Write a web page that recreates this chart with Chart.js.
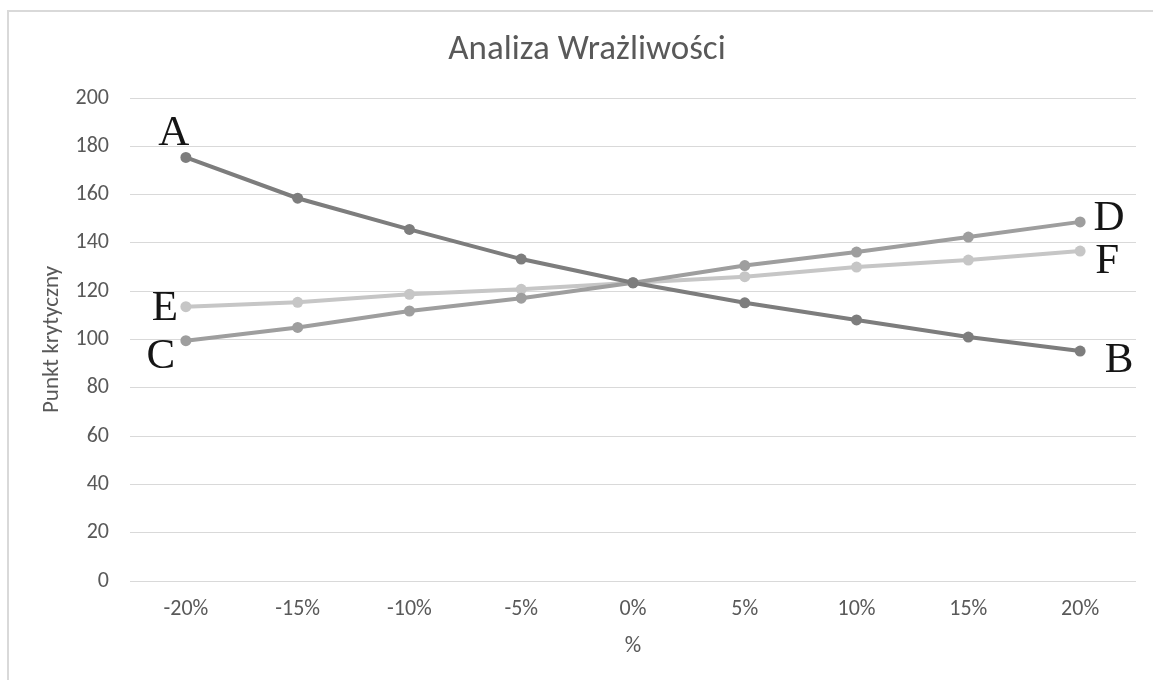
<!DOCTYPE html>
<html>
<head>
<meta charset="utf-8">
<title>Analiza Wrażliwości</title>
<script src="https://cdn.jsdelivr.net/npm/chart.js@4/dist/chart.umd.min.js"></script>
<style>
  html, body { margin: 0; padding: 0; background: #ffffff; }
  #wrap { width: 1153px; height: 680px; position: relative; }
</style>
</head>
<body>
<div id="wrap"><canvas id="chart" width="1153" height="680"></canvas></div>
<script>
// Percentage change of the input parameter
const categories = ['-20%', '-15%', '-10%', '-5%', '0%', '5%', '10%', '15%', '20%'];

// Critical point for each of the three varied parameters
const seriesAB = [175.4, 158.5, 145.6, 133.3, 123.5, 115.2, 108.1, 101.0, 95.2];
const seriesCD = [99.5, 105.0, 111.8, 117.1, 123.5, 130.6, 136.2, 142.4, 148.7];
const seriesEF = [113.6, 115.4, 118.7, 120.8, 123.5, 126.0, 130.0, 132.9, 136.6];

// Letters written at the start and end of each line
const startLabels = ['A', 'C', 'E'];
const endLabels = ['B', 'D', 'F'];

const yTicks = { min: 0, max: 200, step: 20 };

const uiFont = 'Carlito, Calibri, "Liberation Sans Narrow", "Open Sans", sans-serif';
const textColor = '#595959';
const gridColor = '#d9d9d9';

// Offsets (px) of each end letter relative to its point
const startOffsets = [[-12, -27], [-25, 13], [-21, -1]];
const endOffsets = [[39, 7], [29, -6], [27, 8]];

const frame = {
  id: 'frame',
  beforeDraw(chart) {
    const ctx = chart.ctx;
    ctx.save();
    ctx.fillStyle = '#ffffff';
    ctx.fillRect(0, 0, chart.width, chart.height);
    ctx.strokeStyle = gridColor;
    ctx.lineWidth = 2;
    ctx.beginPath();
    ctx.moveTo(8, chart.height);
    ctx.lineTo(8, 11);
    ctx.lineTo(chart.width, 11);
    ctx.stroke();
    ctx.restore();
  }
};

const endLetters = {
  id: 'endLetters',
  afterDatasetsDraw(chart) {
    const ctx = chart.ctx;
    const size = 43;
    ctx.save();
    ctx.font = size + 'px "Liberation Serif", "DejaVu Serif", serif';
    ctx.fillStyle = '#151515';
    ctx.textAlign = 'center';
    ctx.textBaseline = 'alphabetic';
    chart.data.datasets.forEach((ds, i) => {
      const pts = chart.getDatasetMeta(i).data;
      const first = pts[0];
      const last = pts[pts.length - 1];
      const so = startOffsets[i];
      const eo = endOffsets[i];
      ctx.fillText(startLabels[i], first.x + so[0], first.y + so[1] + size * 0.33);
      ctx.fillText(endLabels[i], last.x + eo[0], last.y + eo[1] + size * 0.33);
    });
    ctx.restore();
  }
};

function lineSet(data, color) {
  return {
    data: data,
    borderColor: color,
    backgroundColor: color,
    borderWidth: 4,
    pointRadius: 5.5,
    pointHoverRadius: 5.5,
    pointBorderWidth: 0,
    tension: 0,
    fill: false
  };
}

new Chart(document.getElementById('chart'), {
  type: 'line',
  data: {
    labels: categories,
    datasets: [
      lineSet(seriesAB, '#7d7d7d'),
      lineSet(seriesCD, '#9e9e9e'),
      lineSet(seriesEF, '#c6c6c6')
    ]
  },
  plugins: [frame, endLetters],
  options: {
    responsive: false,
    animation: false,
    events: [],
    layout: { padding: { top: 10, left: 38, right: 17, bottom: 0 } },
    plugins: {
      legend: { display: false },
      tooltip: { enabled: false },
      title: {
        display: true,
        text: 'Analiza Wrażliwości',
        color: textColor,
        font: { family: uiFont, size: 35, weight: 'normal', lineHeight: 1.2 },
        padding: { top: 19, bottom: 27 }
      }
    },
    scales: {
      x: {
        offset: true,
        grid: { display: false },
        border: { display: false },
        ticks: {
          color: textColor,
          font: { family: uiFont, size: 22, lineHeight: 1.2 },
          padding: 7,
          maxRotation: 0,
          autoSkip: false
        },
        title: {
          display: true,
          text: '%',
          color: textColor,
          font: { family: uiFont, size: 23, lineHeight: 1.2 },
          padding: { top: 0, bottom: 20 }
        },
        afterFit(s) { s.height = 99; }
      },
      y: {
        min: yTicks.min,
        max: yTicks.max,
        grid: { color: gridColor, lineWidth: 1, drawTicks: false },
        border: { display: false },
        ticks: {
          stepSize: yTicks.step,
          color: textColor,
          font: { family: uiFont, size: 22, lineHeight: 1.2 },
          padding: 21
        },
        title: {
          display: true,
          text: 'Punkt krytyczny',
          color: textColor,
          font: { family: uiFont, size: 23, lineHeight: 1.2 },
          padding: { top: 0, bottom: 0 }
        },
        afterFit(s) { s.width = 92; }
      }
    }
  }
});
</script>
</body>
</html>
